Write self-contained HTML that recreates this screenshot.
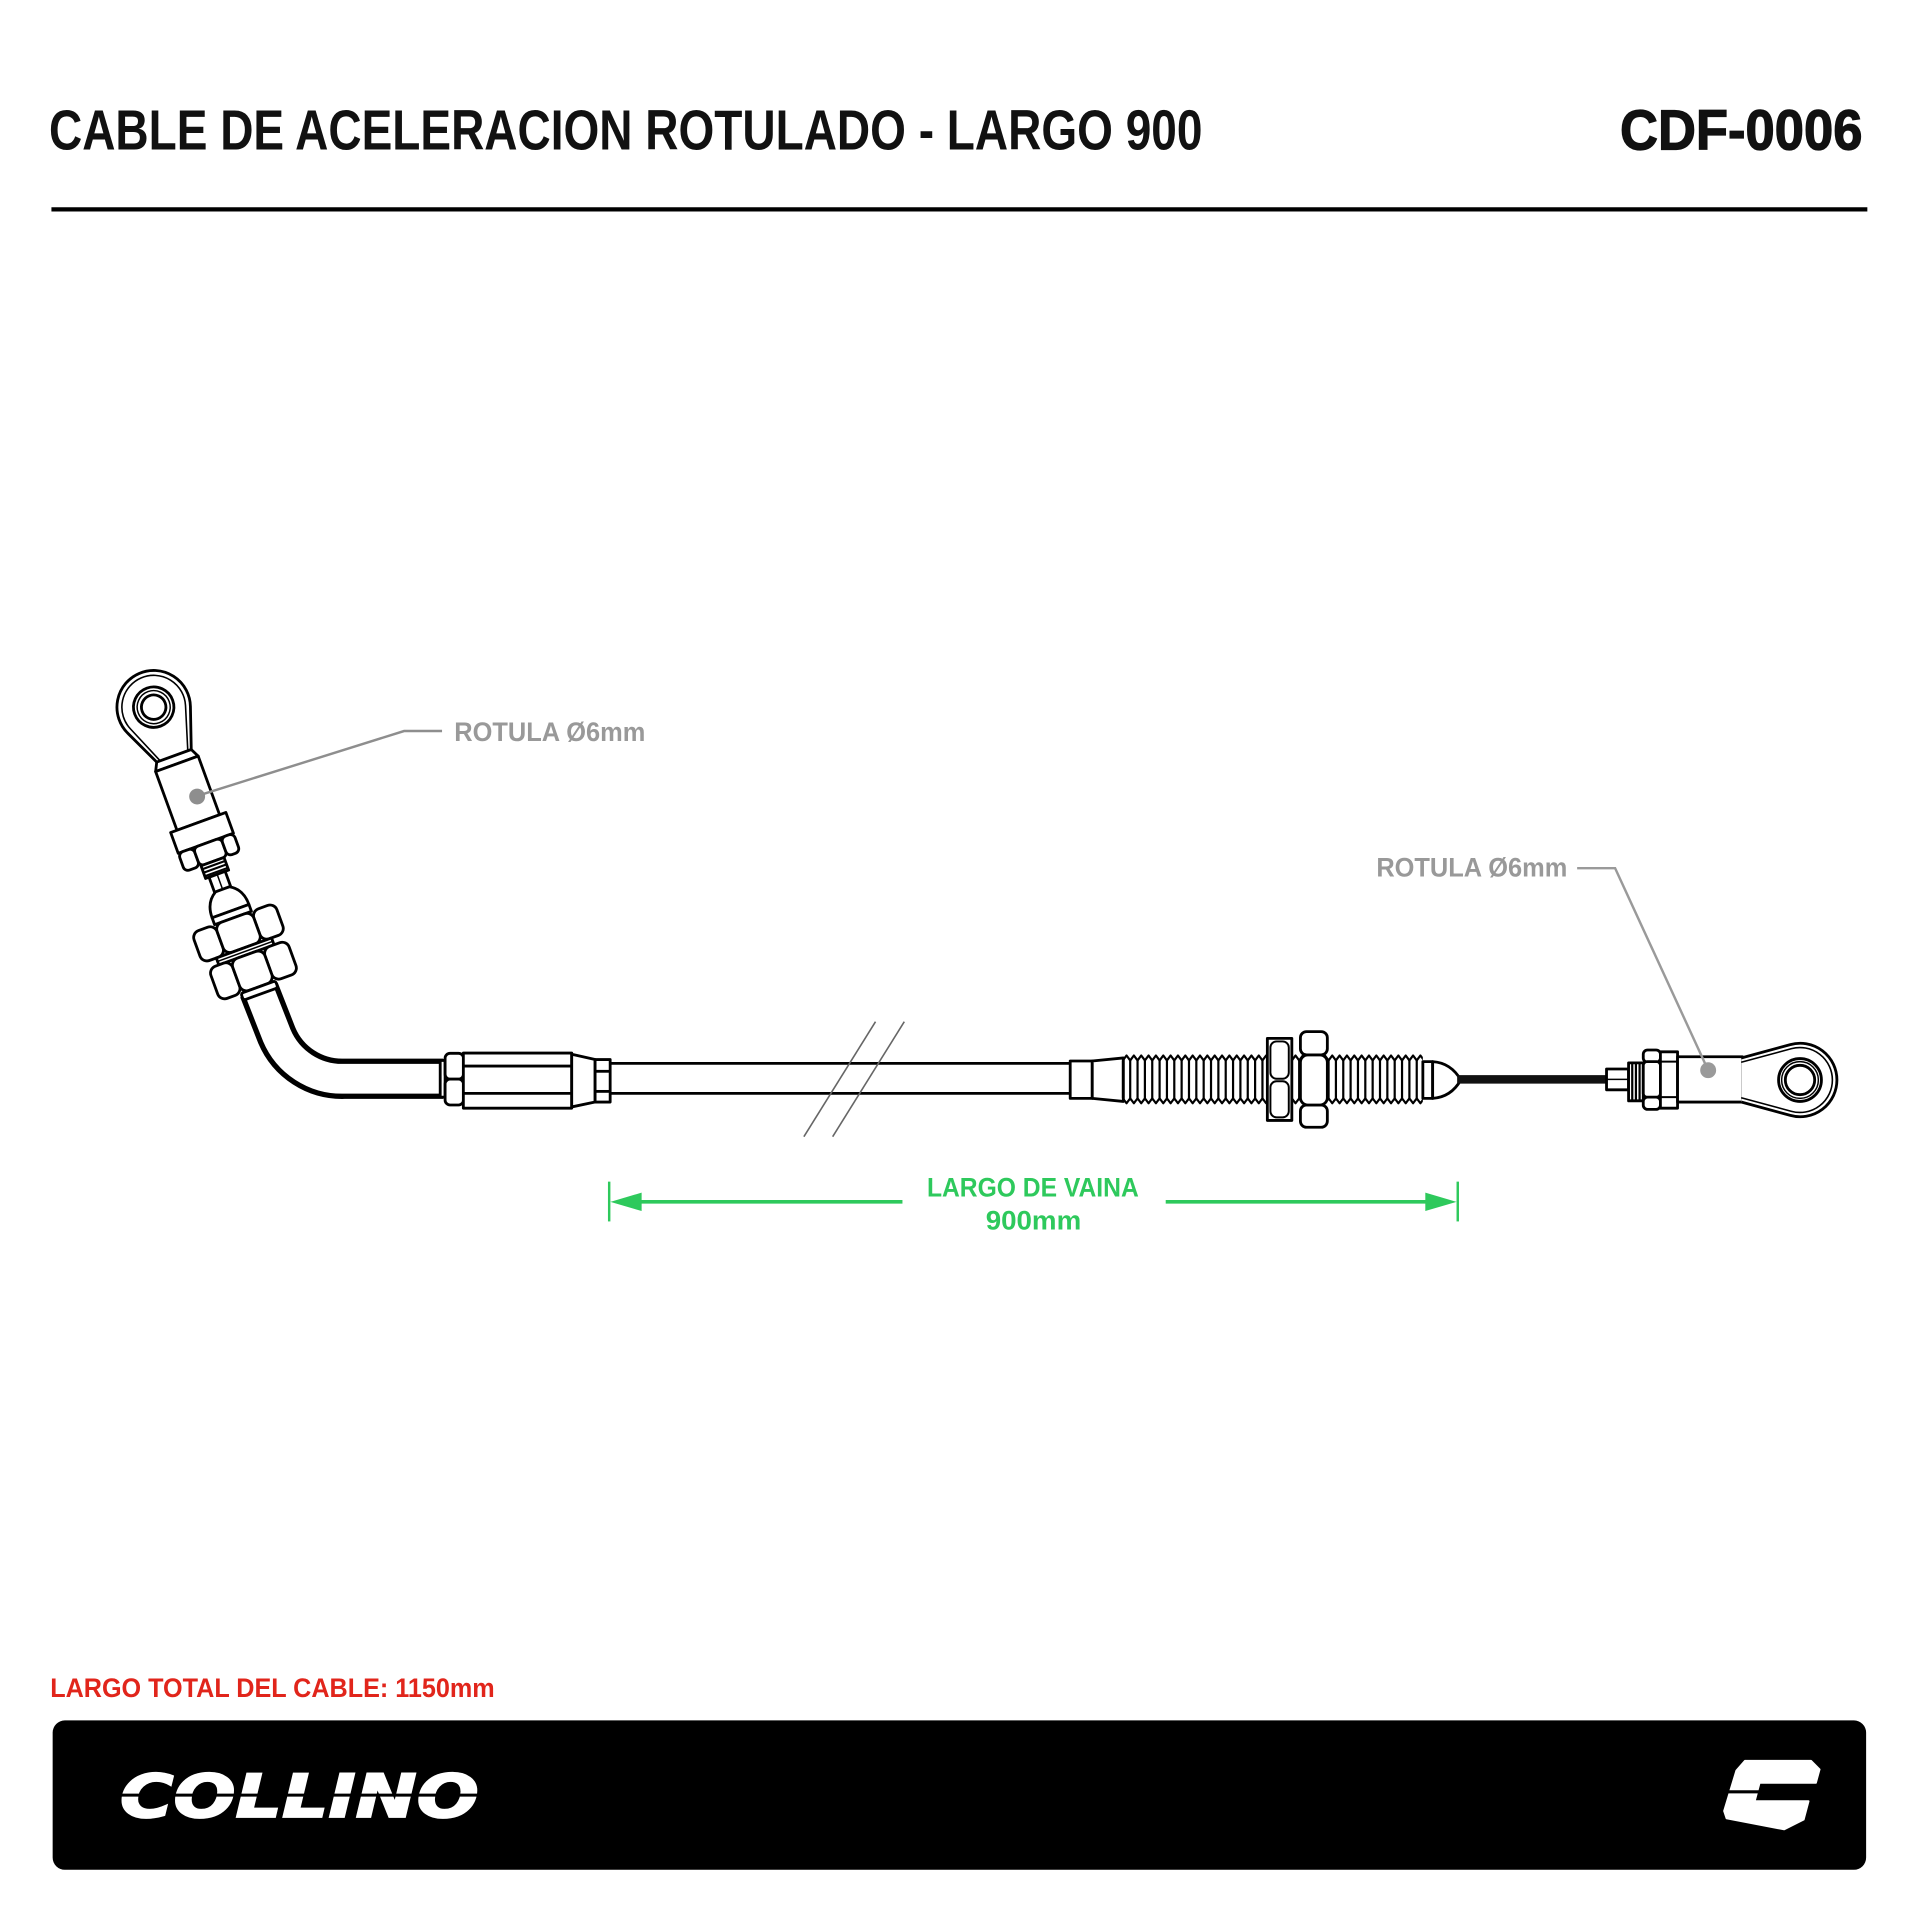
<!DOCTYPE html>
<html>
<head>
<meta charset="utf-8">
<style>
html,body{margin:0;padding:0;background:#fff;}
svg{display:block;}
text{font-family:"Liberation Sans","DejaVu Sans",sans-serif;font-weight:bold;}
</style>
</head>
<body>
<svg xmlns="http://www.w3.org/2000/svg" width="1920" height="1920" viewBox="0 0 1568 1568">
<defs>
  <clipPath id="thr"><rect x="916" y="855" width="246" height="55"/></clipPath>
</defs>
<rect x="0" y="0" width="1568" height="1568" fill="#fff"/>

<!-- Header -->
<text x="40" y="122" font-size="46" fill="#111" textLength="942" lengthAdjust="spacingAndGlyphs">CABLE DE ACELERACION ROTULADO - LARGO 900</text>
<text x="1323" y="122" font-size="46" fill="#111" stroke="#111" stroke-width="1" textLength="198" lengthAdjust="spacingAndGlyphs">CDF-0006</text>
<line x1="42" y1="171" x2="1525" y2="171" stroke="#000" stroke-width="3.5"/>

<!-- Bent tube (left) -->
<path d="M211.5 808.5 L226 845.5 A58 58 0 0 0 281 881 L362 881" fill="none" stroke="#000" stroke-width="32.9"/>
<path d="M211.5 808.5 L226 845.5 A58 58 0 0 0 281 881 L362 881" fill="none" stroke="#fff" stroke-width="24.3"/>

<!-- Left rod assembly -->
<g transform="translate(125.5 577.5) rotate(-20)" fill="#fff" stroke="#000" stroke-width="2.3" stroke-linejoin="round">
  <path d="M-13 43 L-27.2 12.7 A30 30 0 1 1 28.4 9.7 L17 43"/>
  <path d="M-10 43 L-23.9 10.2 A26 26 0 1 1 24.9 7.6 L14 43" fill="none" stroke-width="1.3"/>
  <circle cx="0" cy="0" r="16.5"/>
  <circle cx="0" cy="0" r="13.5" fill="none" stroke-width="1.2"/>
  <circle cx="0" cy="0" r="10"/>
  <path d="M-13 43 L17 43 L20.5 50 L-16.5 50Z"/>
  <rect x="-16.5" y="50" width="37" height="51"/>
  <rect x="-22" y="101" width="48" height="18"/>
  <rect x="-22" y="119" width="13" height="16" rx="4"/>
  <rect x="-9" y="119" width="24" height="16" rx="4"/>
  <rect x="15" y="119" width="11" height="16" rx="4"/>
  <rect x="-8" y="135" width="20" height="11"/>
  <path d="M-8 138 h20 M-8 141 h20 M-8 144 h20" stroke-width="1.7"/>
  <rect x="-5" y="146" width="14" height="14"/>
  <line x1="2" y1="146" x2="2" y2="160" stroke-width="1.2"/>
  <path d="M-4 159 C-11 163 -14 170 -14 178 L18 178 C18 170 15 163 8 159 Z"/>
  <rect x="-14" y="178" width="32" height="6"/>
  <rect x="-34" y="184" width="20" height="26" rx="6"/>
  <rect x="18" y="184" width="20" height="26" rx="6"/>
  <rect x="-14" y="184" width="32" height="26" rx="6"/>
  <rect x="-22" y="210" width="48" height="6"/>
  <line x1="-22" y1="213" x2="26" y2="213" stroke-width="1.2"/>
  <rect x="-31" y="216" width="19" height="28" rx="6"/>
  <rect x="16" y="216" width="21" height="28" rx="6"/>
  <rect x="-12" y="216" width="28" height="28" rx="6"/>
  <rect x="-13" y="244" width="30" height="6" rx="2"/>
</g>

<!-- Left fitting -->
<g fill="#fff" stroke="#000" stroke-width="2.3" stroke-linejoin="round">
  <rect x="359.5" y="866" width="4" height="30"/>
  <rect x="363.5" y="860.2" width="15" height="21.1" rx="4"/>
  <rect x="363.5" y="881.3" width="15" height="21.1" rx="4"/>
  <path d="M378.4 860 L466.9 860 L466.9 905 L378.4 905 Z"/>
  <line x1="378.4" y1="870.6" x2="466.9" y2="870.6"/>
  <line x1="378.4" y1="892.9" x2="466.9" y2="892.9"/>
  <path d="M466.9 861 L486 865.3 L486 900 L466.9 904 Z"/>
  <rect x="486" y="865.3" width="12.3" height="34.7"/>
  <line x1="486" y1="874.9" x2="498.3" y2="874.9"/>
  <line x1="486" y1="891.3" x2="498.3" y2="891.3"/>
</g>

<!-- Straight tube -->
<line x1="498.3" y1="868.4" x2="874" y2="868.4" stroke="#000" stroke-width="2.3"/>
<line x1="498.3" y1="892.9" x2="874" y2="892.9" stroke="#000" stroke-width="2.3"/>

<!-- Break marks -->
<line x1="715" y1="834.4" x2="656.5" y2="928.3" stroke="#666" stroke-width="1.3"/>
<line x1="738.5" y1="834.4" x2="680" y2="928.3" stroke="#666" stroke-width="1.3"/>

<!-- Right threaded end -->
<g fill="#fff" stroke="#000" stroke-width="2.3" stroke-linejoin="round">
  <rect x="874" y="866.5" width="18" height="30.5"/>
  <path d="M892 866.5 L917.4 864 L917.4 899.5 L892 897 Z"/>
</g>
<g clip-path="url(#thr)" fill="none" stroke="#000" stroke-width="1.8" stroke-linejoin="round">
<path d="M917 866 l3 -4 l3 4 l3 -4 l3 4 l3 -4 l3 4 l3 -4 l3 4 l3 -4 l3 4 l3 -4 l3 4 l3 -4 l3 4 l3 -4 l3 4 l3 -4 l3 4 l3 -4 l3 4 l3 -4 l3 4 l3 -4 l3 4 l3 -4 l3 4 l3 -4 l3 4 l3 -4 l3 4 l3 -4 l3 4 l3 -4 l3 4 l3 -4 l3 4 l3 -4 l3 4 l3 -4 l3 4 l3 -4 l3 4 l3 -4 l3 4 l3 -4 l3 4 l3 -4 l3 4 l3 -4 l3 4 l3 -4 l3 4 l3 -4 l3 4 l3 -4 l3 4 l3 -4 l3 4 l3 -4 l3 4 l3 -4 l3 4 l3 -4 l3 4 l3 -4 l3 4 l3 -4 l3 4 l3 -4 l3 4 l3 -4 l3 4 l3 -4 l3 4 l3 -4 l3 4 l3 -4 l3 4 l3 -4 l3 4 l3 -4 l3 4 l3 -4 l3 4 l3 -4 l3 4"/>
<path d="M917 897 l3 4 l3 -4 l3 4 l3 -4 l3 4 l3 -4 l3 4 l3 -4 l3 4 l3 -4 l3 4 l3 -4 l3 4 l3 -4 l3 4 l3 -4 l3 4 l3 -4 l3 4 l3 -4 l3 4 l3 -4 l3 4 l3 -4 l3 4 l3 -4 l3 4 l3 -4 l3 4 l3 -4 l3 4 l3 -4 l3 4 l3 -4 l3 4 l3 -4 l3 4 l3 -4 l3 4 l3 -4 l3 4 l3 -4 l3 4 l3 -4 l3 4 l3 -4 l3 4 l3 -4 l3 4 l3 -4 l3 4 l3 -4 l3 4 l3 -4 l3 4 l3 -4 l3 4 l3 -4 l3 4 l3 -4 l3 4 l3 -4 l3 4 l3 -4 l3 4 l3 -4 l3 4 l3 -4 l3 4 l3 -4 l3 4 l3 -4 l3 4 l3 -4 l3 4 l3 -4 l3 4 l3 -4 l3 4 l3 -4 l3 4 l3 -4 l3 4 l3 -4 l3 4 l3 -4"/>
<path d="M917 866 v31 m6 -31 v31 m6 -31 v31 m6 -31 v31 m6 -31 v31 m6 -31 v31 m6 -31 v31 m6 -31 v31 m6 -31 v31 m6 -31 v31 m6 -31 v31 m6 -31 v31 m6 -31 v31 m6 -31 v31 m6 -31 v31 m6 -31 v31 m6 -31 v31 m6 -31 v31 m6 -31 v31 m6 -31 v31 m6 -31 v31 m6 -31 v31 m6 -31 v31 m6 -31 v31 m6 -31 v31 m6 -31 v31 m6 -31 v31 m6 -31 v31 m6 -31 v31 m6 -31 v31 m6 -31 v31 m6 -31 v31 m6 -31 v31 m6 -31 v31 m6 -31 v31 m6 -31 v31 m6 -31 v31 m6 -31 v31 m6 -31 v31 m6 -31 v31 m6 -31 v31"/>
</g>

<g fill="#fff" stroke="#000" stroke-width="2.3" stroke-linejoin="round">
  <!-- nut 1 -->
  <rect x="1035" y="848" width="20" height="67"/>
  <rect x="1037.5" y="850.5" width="15" height="30.5" rx="5" stroke-width="1.6"/>
  <rect x="1037.5" y="883" width="15" height="29.5" rx="5" stroke-width="1.6"/>
  <!-- nut 2 -->
  <rect x="1062" y="842.5" width="22" height="19" rx="5"/>
  <rect x="1062" y="902.4" width="22" height="18.2" rx="5"/>
  <rect x="1062" y="861.6" width="22" height="40.8" rx="6"/>
  <!-- tip -->
  <rect x="1162" y="867" width="8" height="30"/>
  <path d="M1170 867 Q1185 868 1193 882 Q1185 896 1170 897 Z"/>
</g>

<!-- wire -->
<line x1="1190" y1="881.5" x2="1314" y2="881.5" stroke="#111" stroke-width="7"/>

<!-- Right rotula end -->
<g fill="#fff" stroke="#000" stroke-width="2.3" stroke-linejoin="round">
  <rect x="1312" y="873" width="18" height="17"/>
  <line x1="1312" y1="881.5" x2="1330" y2="881.5" stroke-width="1.2"/>
  <rect x="1330" y="868" width="12" height="31"/>
  <path d="M1333 868 v31 M1336 868 v31 M1339 868 v31" stroke-width="1.8"/>
  <rect x="1342" y="857.5" width="14" height="10" rx="3.5"/>
  <rect x="1342" y="896" width="14" height="10" rx="3.5"/>
  <rect x="1342" y="867" width="14" height="29" rx="3"/>
  <rect x="1356" y="859" width="14" height="46"/>
  <line x1="1356" y1="867" x2="1370" y2="867" stroke-width="1.6"/>
  <line x1="1356" y1="896" x2="1370" y2="896" stroke-width="1.6"/>
  <rect x="1370" y="863" width="53" height="37"/>
  <path d="M1422 864 L1462.1 853.1 A30 30 0 1 1 1462.1 910.9 L1422 900"/>
  <path d="M1422 867.5 L1463.1 856.4 A26.5 26.5 0 1 1 1463.1 907.6 L1422 896.5" fill="none" stroke-width="1.3"/>
  <circle cx="1470" cy="882" r="17.5"/>
  <circle cx="1470" cy="882" r="15" fill="none" stroke-width="1.2"/>
  <circle cx="1470" cy="882" r="12"/>
</g>

<!-- Leaders and labels -->
<path d="M161 650 L330 597 L361 597" fill="none" stroke="#8e8e8e" stroke-width="2"/>
<circle cx="161" cy="650.5" r="6.5" fill="#8e8e8e"/>
<text x="371" y="605" font-size="22" fill="#999" textLength="156" lengthAdjust="spacingAndGlyphs">ROTULA Ø6mm</text>

<path d="M1395 874 L1319 709 L1288 709" fill="none" stroke="#9a9a9a" stroke-width="2"/>
<circle cx="1395" cy="874" r="6.5" fill="#9a9a9a"/>
<text x="1124" y="716" font-size="22" fill="#999" textLength="156" lengthAdjust="spacingAndGlyphs">ROTULA Ø6mm</text>

<!-- Dimension -->
<g stroke="#2ec95c" fill="#2ec95c">
  <line x1="497.5" y1="965" x2="497.5" y2="997.5" stroke-width="2"/>
  <line x1="1190.5" y1="965" x2="1190.5" y2="997.5" stroke-width="2"/>
  <line x1="520" y1="981.5" x2="737" y2="981.5" stroke-width="3"/>
  <line x1="952" y1="981.5" x2="1168" y2="981.5" stroke-width="3"/>
  <path d="M498.5 981.5 L524 974 L524 989 Z" stroke="none"/>
  <path d="M1189.5 981.5 L1164 974 L1164 989 Z" stroke="none"/>
</g>
<text x="757" y="977" font-size="22" fill="#2ec95c" textLength="173" lengthAdjust="spacingAndGlyphs">LARGO DE VAINA</text>
<text x="805" y="1004" font-size="22" fill="#2ec95c" textLength="78" lengthAdjust="spacingAndGlyphs">900mm</text>

<!-- Total length -->
<text x="41" y="1386" font-size="22" fill="#e1251b" textLength="363" lengthAdjust="spacingAndGlyphs">LARGO TOTAL DEL CABLE: 1150mm</text>

<!-- Footer -->
<rect x="43" y="1405" width="1481" height="122" rx="10" fill="#000"/>
<text x="98" y="1484" font-size="49" fill="#fff" stroke="#fff" stroke-width="1.5" style="font-family:'DejaVu Sans','Liberation Sans',sans-serif;font-weight:bold;font-style:italic" textLength="293" lengthAdjust="spacingAndGlyphs">COLLINO</text>
<line x1="94" y1="1466" x2="396" y2="1466" stroke="#000" stroke-width="2.5"/>

<path d="M1425 1438 L1479 1438 L1486 1445 L1483 1456 L1437 1456 L1433 1471 L1477 1471 L1473 1486 L1457 1494 L1410 1485 L1408 1479 L1418 1446 Z" fill="#fff" stroke="#fff" stroke-width="1.5" stroke-linejoin="round"/>
<line x1="1403" y1="1463.3" x2="1440" y2="1463.3" stroke="#000" stroke-width="2.6"/>
</svg>
</body>
</html>
